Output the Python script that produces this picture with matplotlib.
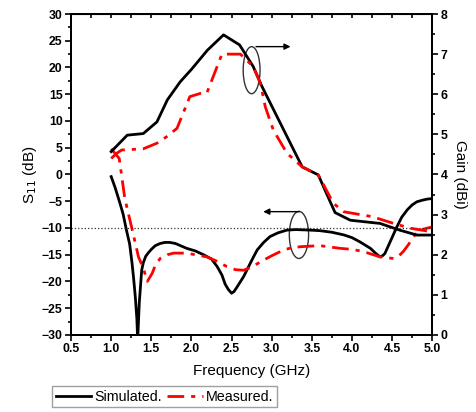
import numpy as np
import matplotlib
matplotlib.use('Agg')
import matplotlib.pyplot as plt
from matplotlib.patches import Ellipse
from matplotlib.ticker import MultipleLocator

plt.rcParams['font.family'] = ['Liberation Sans', 'DejaVu Sans']

# Коэффициент отражения S11 (dB)
f_s11_sim = [1.0, 1.05, 1.11, 1.15, 1.19, 1.23, 1.26, 1.28, 1.30, 1.32, 1.33, 1.35, 1.38,
             1.40, 1.43, 1.46, 1.50, 1.55, 1.61, 1.67, 1.73, 1.80, 1.94, 2.05, 2.15,
             2.25, 2.32, 2.38, 2.42, 2.46, 2.50, 2.53, 2.57, 2.65, 2.70, 2.76, 2.82,
             2.90, 2.98, 3.08, 3.19, 3.30, 3.48, 3.60, 3.75, 3.90, 4.00, 4.10, 4.23,
             4.30, 4.35, 4.38, 4.41, 4.44, 4.50, 4.56, 4.62, 4.69, 4.75, 4.81, 4.88,
             4.94, 5.0]
s11_sim = [-0.4, -2.5, -5.4, -7.5, -10.4, -13.0, -16.6, -19.5, -22.8, -27.0, -31.0, -24.0,
           -17.9, -16.5, -15.3, -14.7, -14.0, -13.3, -12.9, -12.7, -12.7, -12.9, -13.8,
           -14.3, -15.0, -15.8, -17.2, -18.8, -20.5, -21.5, -22.2, -21.9, -21.0, -19.1,
           -17.6, -15.8, -14.1, -12.7, -11.6, -10.9, -10.4, -10.3, -10.4, -10.5, -10.8,
           -11.3, -11.8, -12.6, -13.8, -14.8, -15.4, -15.2, -14.8, -13.8, -11.8, -9.8,
           -8.0, -6.6, -5.7, -5.1, -4.8, -4.6, -4.5]

f_s11_meas = [1.0, 1.1, 1.17, 1.26, 1.34, 1.40, 1.45, 1.51, 1.55, 1.61, 1.70, 1.78, 1.94,
              2.19, 2.30, 2.44, 2.55, 2.65, 2.75, 2.90, 3.00, 3.15, 3.25, 3.36, 3.60,
              3.85, 4.00, 4.14, 4.35, 4.45, 4.52, 4.58, 4.64, 4.70, 4.77, 4.81, 4.85,
              4.92, 5.0]
s11_meas = [4.8, 3.0, -4.5, -10.2, -15.4, -17.5, -20.0, -18.5, -17.0, -15.7, -15.0, -14.7,
            -14.7, -15.4, -16.1, -17.2, -17.8, -17.9, -17.3, -16.0, -15.2, -14.1, -13.7,
            -13.5, -13.3, -13.8, -14.0, -14.4, -15.4, -15.6, -15.7, -15.3, -14.4, -13.2,
            -11.6, -10.9, -10.4, -10.1, -9.8]

# Усиление (dBi)
f_gain_sim = [1.0, 1.2, 1.4, 1.57, 1.7, 1.86, 2.0, 2.2, 2.4, 2.6, 2.77, 2.88, 3.38, 3.58,
              3.79, 3.98, 4.35, 4.6, 4.81, 5.0]
gain_sim = [4.57, 4.98, 5.02, 5.31, 5.86, 6.31, 6.62, 7.10, 7.48, 7.23, 6.69, 6.19, 4.19,
            3.99, 3.05, 2.86, 2.78, 2.61, 2.49, 2.49]

f_gain_meas = [1.0, 1.07, 1.13, 1.40, 1.57, 1.69, 1.82, 1.98, 2.11, 2.19, 2.38, 2.61, 2.77,
               2.86, 2.92, 3.02, 3.19, 3.38, 3.58, 3.77, 3.90, 4.25, 4.52, 4.73, 5.0]
gain_meas = [4.40, 4.53, 4.61, 4.64, 4.78, 4.94, 5.15, 5.94, 6.02, 6.02, 7.0, 7.0, 6.69,
             6.27, 5.69, 5.11, 4.53, 4.19, 3.99, 3.28, 3.07, 2.95, 2.78, 2.66, 2.57]

fig = plt.figure(figsize=(4.77, 4.12), dpi=100)
ax = fig.add_axes([0.149, 0.187, 0.757, 0.779])
ax2 = ax.twinx()

red_dash = (0, (6, 2.5, 1.5, 2.5))
l1, = ax.plot(f_s11_sim, s11_sim, color='black', lw=2, label='Simulated.')
l2, = ax.plot(f_s11_meas, s11_meas, color='red', lw=2, ls=red_dash, label='Measured.')
ax2.plot(f_gain_sim, gain_sim, color='black', lw=2)
ax2.plot(f_gain_meas, gain_meas, color='red', lw=2, ls=red_dash)

ax.axhline(-10, color='#333333', ls=':', lw=0.9)

ax.set_xlim(0.5, 5.0)
ax.set_ylim(-30, 30)
ax2.set_ylim(0, 8)

ax.xaxis.set_major_locator(MultipleLocator(0.5))
ax.xaxis.set_minor_locator(MultipleLocator(0.25))
ax.yaxis.set_major_locator(MultipleLocator(5))
ax.yaxis.set_minor_locator(MultipleLocator(2.5))
ax2.yaxis.set_major_locator(MultipleLocator(1))
ax2.yaxis.set_minor_locator(MultipleLocator(0.5))

for a in (ax, ax2):
    a.tick_params(which='major', direction='out', length=4, width=1.2,
                  labelsize=8.8, pad=2)
    a.tick_params(which='minor', direction='out', length=2.5, width=1.2)
    for s in a.spines.values():
        s.set_linewidth(1.4)
    for lab in a.get_xticklabels() + a.get_yticklabels():
        lab.set_fontweight('bold')

top = ax.secondary_xaxis('top')
top.xaxis.set_major_locator(MultipleLocator(0.25))
top.tick_params(direction='in', length=3, width=1.2, labeltop=False)

ax.set_xlabel('Frequency (GHz)', fontsize=11, labelpad=6)
ax.set_ylabel('S$_{11}$ (dB)', fontsize=11, labelpad=2)
ax2.set_ylabel('Gain (dBi)', fontsize=11, rotation=270, labelpad=14)

# Эллипсы и стрелки
ax.add_patch(Ellipse((2.75, 19.5), 0.21, 8.8, fill=False, ec='#333333', lw=1))
ax.add_patch(Ellipse((3.34, -11.3), 0.24, 8.8, fill=False, ec='#333333', lw=1))
ax.annotate('', xy=(3.27, 23.9), xytext=(2.77, 23.9),
            arrowprops=dict(arrowstyle='-|>', color='black', lw=1, mutation_scale=9))
ax.annotate('', xy=(2.86, -6.95), xytext=(3.38, -6.95),
            arrowprops=dict(arrowstyle='-|>', color='black', lw=1, mutation_scale=9))

leg = fig.legend(handles=[l1, l2], loc='center', bbox_to_anchor=(0.345, 0.037),
                 ncol=2, fontsize=10.3, frameon=True, fancybox=False,
                 handlelength=2.5, handletextpad=0.2, columnspacing=0.4,
                 borderpad=0.25, borderaxespad=0)
leg.get_frame().set_edgecolor('#888888')
leg.get_frame().set_linewidth(1)

fig.savefig('out.png', dpi=100)
